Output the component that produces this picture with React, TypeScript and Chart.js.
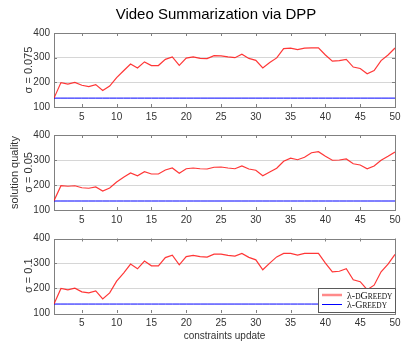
import React, { useEffect, useRef } from "react";
import { Chart, registerables } from "chart.js";

Chart.register(...registerables);

// ---------- data ----------
const updates = [
  1, 2, 3, 4, 5, 6, 7, 8, 9, 10, 11, 12, 13, 14, 15, 16, 17, 18, 19, 20, 21, 22, 23, 24, 25,
  26, 27, 28, 29, 30, 31, 32, 33, 34, 35, 36, 37, 38, 39, 40, 41, 42, 43, 44, 45, 46, 47, 48, 49, 50,
];
const xTickValues = [5, 10, 15, 20, 25, 30, 35, 40, 45, 50];
const yTickValues = [100, 200, 300, 400];

const sigma075DGreedy = [
  136, 199, 193, 200, 188, 183, 191, 167, 185, 219, 247, 274, 258, 283, 268, 268, 293, 303, 269, 298,
  303, 297, 296, 308, 307, 303, 300, 314, 297, 289, 258, 280, 299, 337, 339, 333, 339, 340, 340, 311,
  286, 288, 293, 262, 256, 235, 248, 288, 311, 339,
];
const sigma05DGreedy = [
  137, 197, 195, 197, 189, 187, 192, 176, 188, 212, 231, 248, 237, 253, 244, 244, 260, 268, 247, 265,
  268, 265, 264, 271, 272, 268, 265, 276, 264, 259, 237, 252, 267, 295, 307, 301, 311, 329, 333, 315,
  299, 300, 304, 285, 280, 265, 276, 299, 315, 332,
];
const sigma1DGreedy = [
  136, 199, 193, 200, 185, 181, 189, 157, 181, 228, 261, 297, 278, 309, 290, 290, 323, 333, 294, 327,
  332, 327, 325, 337, 337, 332, 329, 340, 324, 314, 274, 301, 326, 340, 340, 333, 340, 340, 340, 301,
  266, 268, 278, 234, 226, 194, 212, 266, 297, 336,
];
const greedyBaseline = [
  136, 136, 136, 136, 136, 136, 136, 136, 136, 136, 136, 136, 136, 136, 136, 136, 136, 136, 136, 136,
  136, 136, 136, 136, 136, 136, 136, 136, 136, 136, 136, 136, 136, 136, 136, 136, 136, 136, 136, 136,
  136, 136, 136, 136, 136, 136, 136, 136, 136, 136,
];

const titleText = "Video Summarization via DPP";
const xAxisTitle = "constraints update";
const yAxisTitle = "solution quality";
const panelLabels = ["σ = 0.075", "σ = 0.05", "σ = 0.1"];
const seriesNames = ["λ-dGreedy", "λ-Greedy"];

// ---------- styles ----------
const SANS = '"Liberation Sans", Arial, sans-serif';
const SERIF = '"Liberation Serif", "Times New Roman", serif';
const TEXT = "#333333";
const FRAME = "#808080";
const GRID = "#d6d6d6";
const RED = "rgba(255,20,20,0.85)";
const BLUE = "#0000ff";

const toPoints = (vals: number[]) => updates.map((u, i) => ({ x: u, y: vals[i] }));

const framePlugin = {
  id: "frame",
  beforeDatasetsDraw(chart: any) {
    const { ctx, chartArea, scales } = chart;
    const { left, right, top, bottom } = chartArea;
    ctx.save();
    ctx.strokeStyle = FRAME;
    ctx.lineWidth = 1;
    ctx.beginPath();
    for (const v of xTickValues) {
      const px = Math.round(scales.x.getPixelForValue(v)) + 0.5;
      ctx.moveTo(px, bottom);
      ctx.lineTo(px, bottom - 3);
      ctx.moveTo(px, top);
      ctx.lineTo(px, top + 3);
    }
    for (const v of yTickValues) {
      if (v === 100 || v === 400) continue;
      const py = Math.round(scales.y.getPixelForValue(v)) + 0.5;
      ctx.moveTo(left, py);
      ctx.lineTo(left + 3, py);
      ctx.moveTo(right, py);
      ctx.lineTo(right - 3, py);
    }
    ctx.stroke();
    ctx.strokeRect(Math.round(left) + 0.5, Math.round(top) + 0.5, Math.round(right - left), Math.round(bottom - top));
    ctx.restore();
  },
};

const titlePlugin = {
  id: "mainTitle",
  afterDraw(chart: any) {
    const { ctx } = chart;
    ctx.save();
    ctx.fillStyle = "#000";
    ctx.font = `15px ${SANS}`;
    ctx.textAlign = "center";
    ctx.textBaseline = "middle";
    ctx.fillText(titleText, 216, 15);
    ctx.restore();
  },
};

function drawSmallCaps(ctx: CanvasRenderingContext2D, text: string, x: number, y: number, size: number) {
  let cx = x;
  const prefix = text.slice(0, 2);
  ctx.font = `${size}px ${SERIF}`;
  ctx.fillText(prefix, cx, y);
  cx += ctx.measureText(prefix).width;
  for (const ch of text.slice(2)) {
    const upper = ch === ch.toUpperCase();
    const s = upper ? size : size * 0.74;
    const c = ch.toUpperCase();
    ctx.font = `${s}px ${SERIF}`;
    ctx.fillText(c, cx, y);
    cx += ctx.measureText(c).width;
  }
}

const legendPlugin = {
  id: "paperLegend",
  afterDraw(chart: any) {
    const { ctx, chartArea } = chart;
    const bx = chartArea.right - 77;
    const by = chartArea.bottom - 25;
    ctx.save();
    ctx.fillStyle = "#ffffff";
    ctx.fillRect(bx, by, 77, 24);
    ctx.strokeStyle = "#5a5a5a";
    ctx.lineWidth = 1;
    ctx.strokeRect(bx + 0.5, by + 0.5, 77, 24);
    const rows = [
      { name: seriesNames[0], color: "rgba(255,60,60,0.6)", width: 2.5, y: by + 7 },
      { name: seriesNames[1], color: BLUE, width: 1, y: by + 16.5 },
    ];
    for (const r of rows) {
      ctx.strokeStyle = r.color;
      ctx.lineWidth = r.width;
      ctx.beginPath();
      ctx.moveTo(bx + 4, r.y);
      ctx.lineTo(bx + 24, r.y);
      ctx.stroke();
      ctx.fillStyle = "#111";
      ctx.textBaseline = "alphabetic";
      ctx.textAlign = "left";
      drawSmallCaps(ctx, r.name, bx + 29, r.y + 3.5, 10);
    }
    ctx.restore();
  },
};

type PanelProps = {
  values: number[];
  yTitle: string | string[];
  yTitlePad: number;
  top: number;
  height: number;
  padTop: number;
  xHeight: number;
  showXTitle: boolean;
  withTitle: boolean;
  withLegend: boolean;
};

function Panel(p: PanelProps) {
  const ref = useRef<HTMLCanvasElement | null>(null);
  useEffect(() => {
    if (!ref.current) return;
    const plugins: any[] = [framePlugin];
    if (p.withTitle) plugins.push(titlePlugin);
    if (p.withLegend) plugins.push(legendPlugin);
    const chart = new Chart(ref.current, {
      type: "line",
      data: {
        datasets: [
          {
            label: seriesNames[0],
            data: toPoints(p.values),
            borderColor: RED,
            borderWidth: 1.2,
            pointRadius: 0,
            tension: 0,
          },
          {
            label: seriesNames[1],
            data: toPoints(greedyBaseline),
            borderColor: BLUE,
            borderWidth: 1,
            pointRadius: 0,
            tension: 0,
          },
        ],
      },
      options: {
        responsive: false,
        animation: false,
        events: [],
        layout: { padding: { top: p.padTop, right: 12, bottom: 0, left: 0 } },
        plugins: { legend: { display: false }, tooltip: { enabled: false }, title: { display: false } },
        scales: {
          x: {
            type: "linear",
            min: 1,
            max: 50,
            afterBuildTicks: (s: any) => {
              s.ticks = xTickValues.map((v) => ({ value: v }));
            },
            afterFit: (s: any) => {
              s.height = p.xHeight;
            },
            grid: { display: false, drawTicks: false },
            border: { display: false },
            ticks: {
              padding: 4,
              color: TEXT,
              font: { size: 10, family: SANS },
              maxRotation: 0,
              autoSkip: false,
            },
            title: {
              display: p.showXTitle,
              text: xAxisTitle,
              color: TEXT,
              font: { size: 10, family: SANS, lineHeight: 1.2 },
              padding: { top: 0, bottom: 8 },
            },
          },
          y: {
            type: "linear",
            min: 100,
            max: 400,
            afterBuildTicks: (s: any) => {
              s.ticks = yTickValues.map((v) => ({ value: v }));
            },
            afterFit: (s: any) => {
              s.width = 54;
            },
            grid: {
              drawTicks: false,
              color: (c: any) => (c.tick && (c.tick.value === 100 || c.tick.value === 400) ? "rgba(0,0,0,0)" : GRID),
              lineWidth: 1,
            },
            border: { display: false },
            ticks: { padding: 4, color: TEXT, font: { size: 10, family: SANS } },
            title: {
              display: true,
              text: p.yTitle,
              color: TEXT,
              font: { size: 11, family: SANS, lineHeight: 1.3 },
              padding: { top: p.yTitlePad, bottom: 0 },
            },
          },
        },
      } as any,
      plugins,
    });
    return () => chart.destroy();
  }, []);
  return (
    <canvas
      ref={ref}
      width={407}
      height={p.height}
      style={{ position: "absolute", left: 0, top: p.top, width: 407, height: p.height, display: "block" }}
    />
  );
}

export default function App() {
  return (
    <div style={{ position: "absolute", left: 0, top: 0, width: 407, height: 350, background: "#fff", overflow: "hidden" }}>
      <Panel
        values={sigma075DGreedy}
        yTitle={panelLabels[0]}
        yTitlePad={22}
        top={0}
        height={125}
        padTop={33}
        xHeight={18}
        showXTitle={false}
        withTitle={true}
        withLegend={false}
      />
      <Panel
        values={sigma05DGreedy}
        yTitle={[yAxisTitle, panelLabels[1]]}
        yTitlePad={8}
        top={125}
        height={103}
        padTop={10}
        xHeight={18}
        showXTitle={false}
        withTitle={false}
        withLegend={false}
      />
      <Panel
        values={sigma1DGreedy}
        yTitle={panelLabels[2]}
        yTitlePad={22}
        top={228}
        height={122}
        padTop={10.5}
        xHeight={37}
        showXTitle={true}
        withTitle={false}
        withLegend={true}
      />
    </div>
  );
}
